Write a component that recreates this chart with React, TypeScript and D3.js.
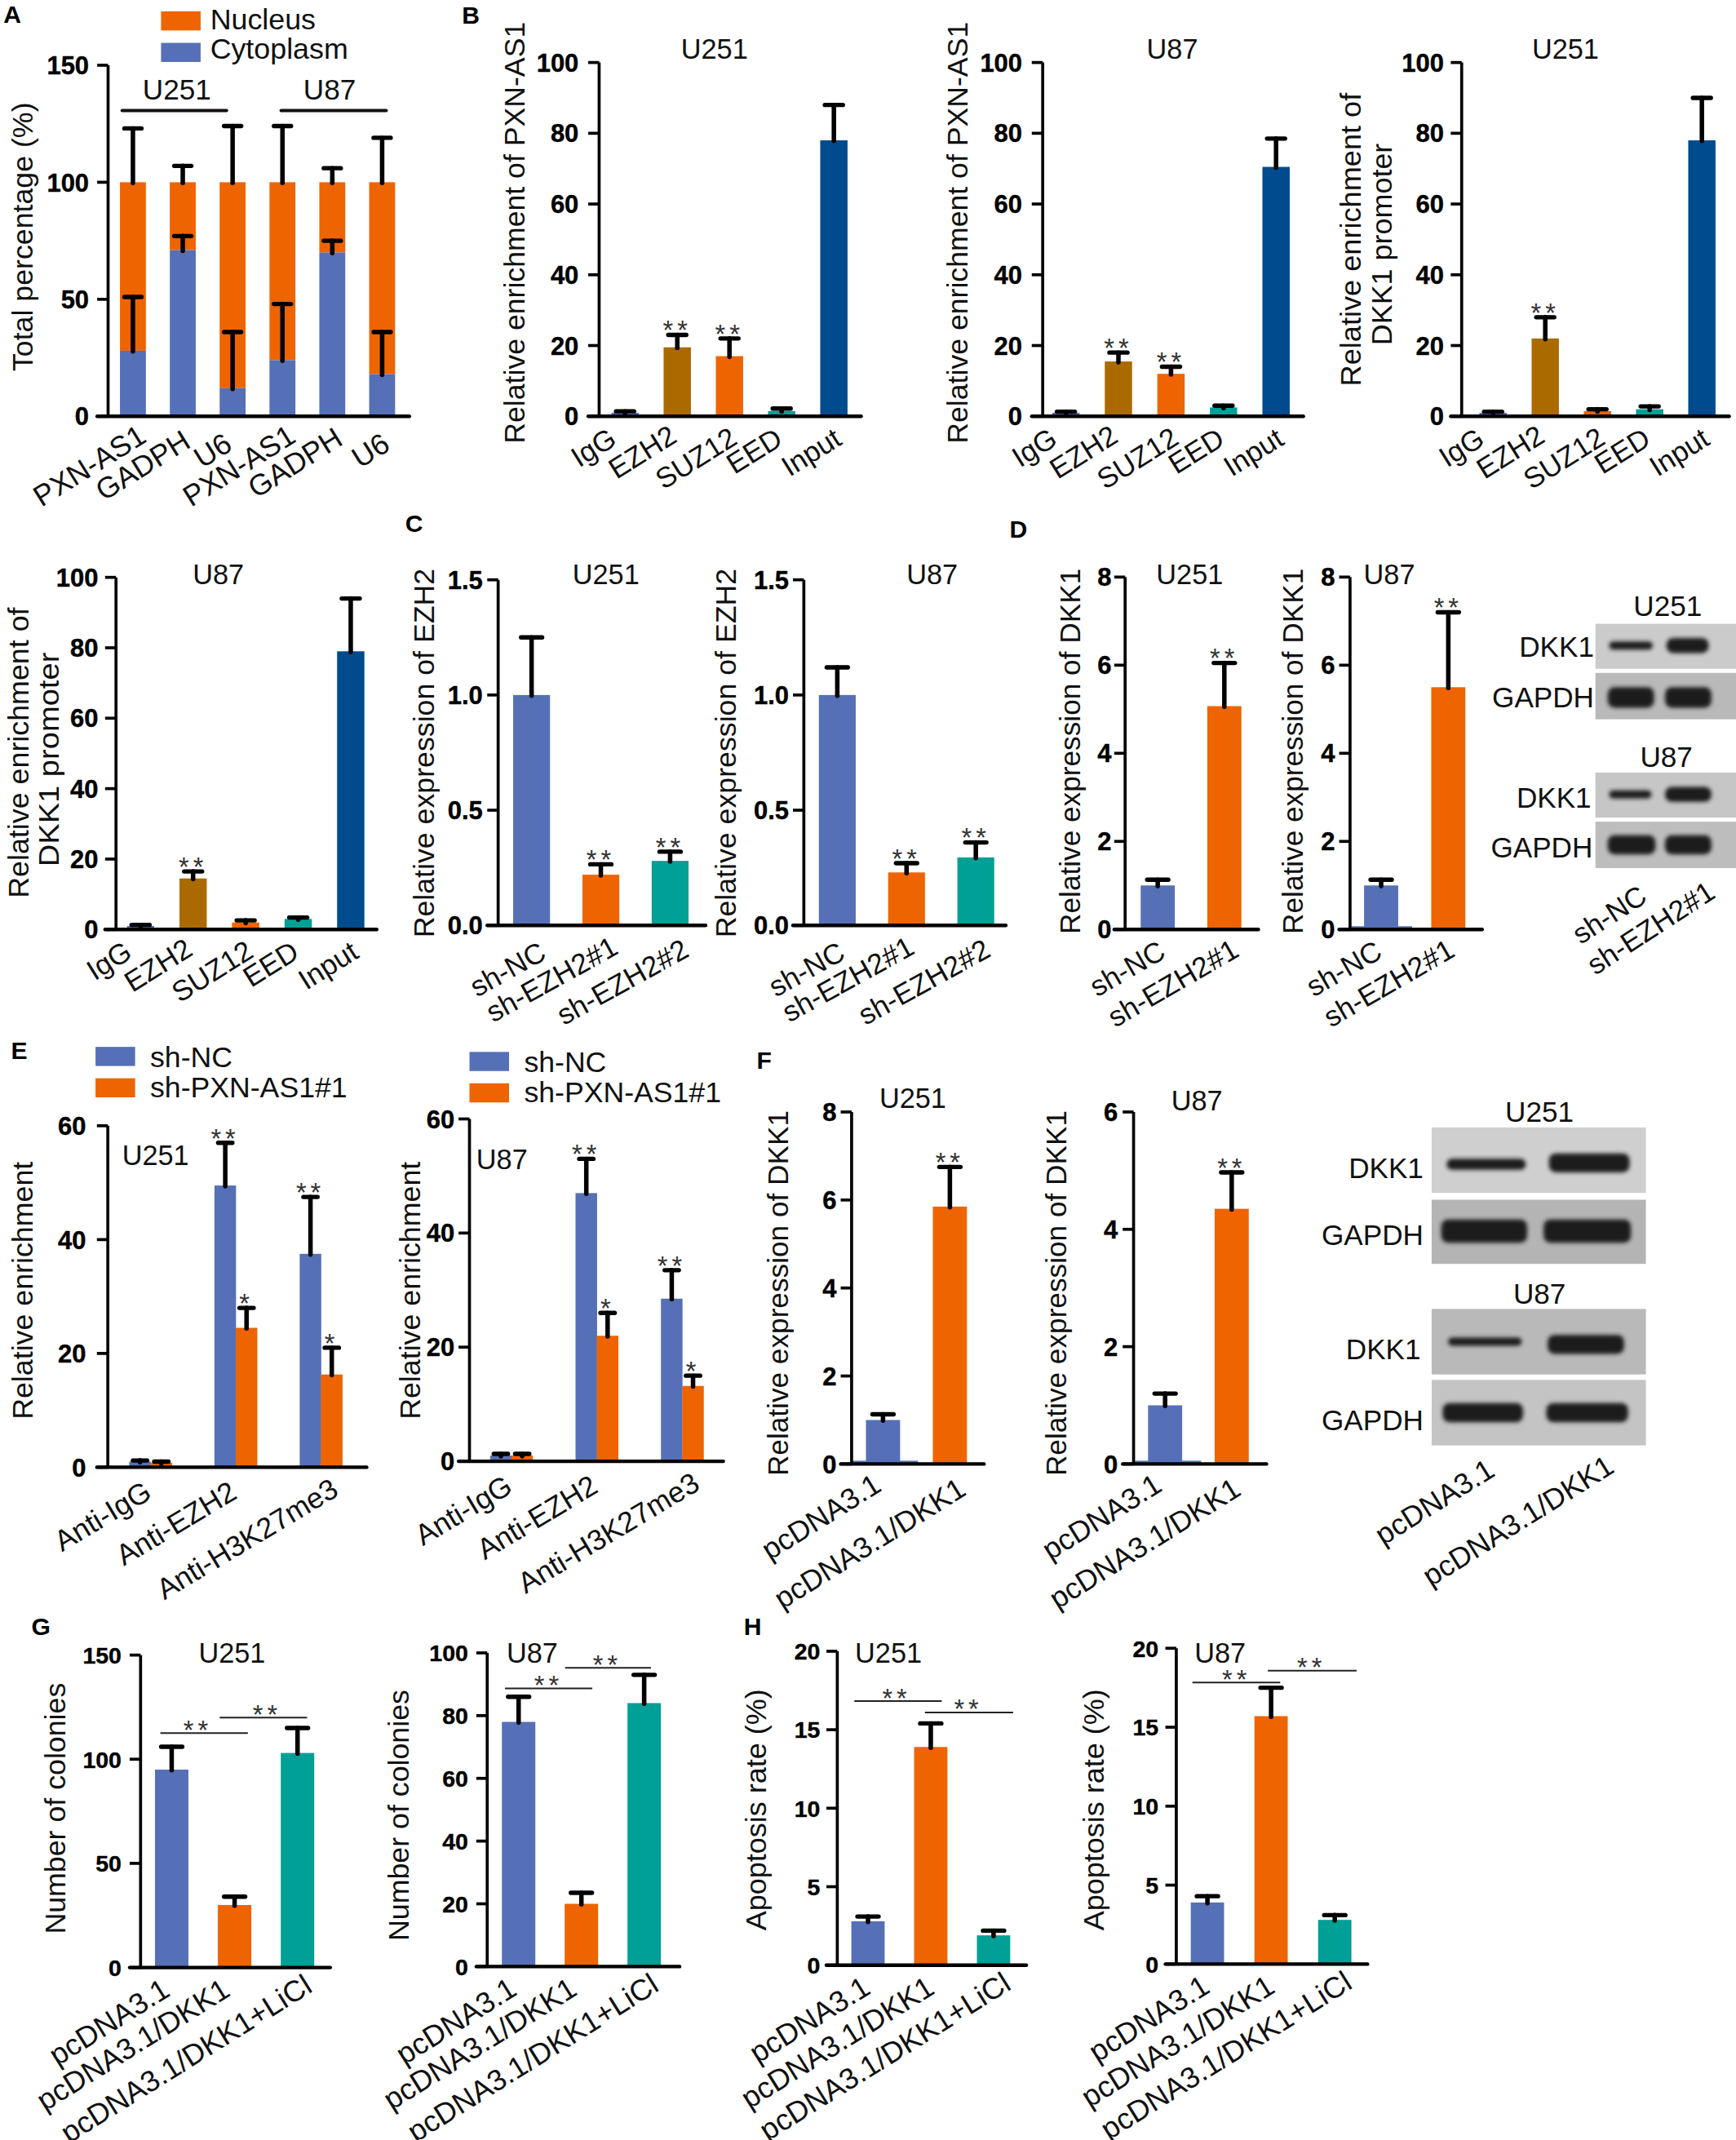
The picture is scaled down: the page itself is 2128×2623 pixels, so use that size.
import React from "react";
import * as d3 from "d3";

// ---------- data ----------
const aCats = ["PXN-AS1", "GADPH", "U6", "PXN-AS1", "GADPH", "U6"];
const aCyto = [28, 71, 12, 24, 70, 18];
const aCytoTop = [51, 77, 36, 48, 75, 36];
const aTotal = [100, 100, 100, 100, 100, 100];
const aTotalTop = [123, 107, 124, 124, 106, 119];
const aTicks = [0, 50, 100, 150];

const ripCats = ["IgG", "EZH2", "SUZ12", "EED", "Input"];
const pct100 = [0, 20, 40, 60, 80, 100];
const b1Vals = [1, 19.5, 17, 1.5, 78];
const b1Tops = [1.4, 23, 22, 2.2, 88];
const b1Stars = ["", "**", "**", "", ""];
const b2Vals = [1, 15.5, 12, 2.5, 70.5];
const b2Tops = [1.3, 18, 14, 3, 78.5];
const b2Stars = ["", "**", "**", "", ""];
const b3Vals = [1, 22, 1.5, 2, 78];
const b3Tops = [1.3, 28, 2, 2.8, 90];
const b3Stars = ["", "**", "", "", ""];
const b4Vals = [1, 14.5, 2, 3, 79];
const b4Tops = [1.3, 16.5, 2.6, 3.4, 94];
const b4Stars = ["", "**", "", "", ""];

const cCats = ["sh-NC", "sh-EZH2#1", "sh-EZH2#2"];
const cTicks = [0, 0.5, 1, 1.5];
const c1Vals = [1, 0.22, 0.28];
const c1Tops = [1.25, 0.265, 0.32];
const c2Vals = [1, 0.23, 0.295];
const c2Tops = [1.12, 0.27, 0.36];
const cStars = ["", "**", "**"];

const dCats = ["sh-NC", "sh-EZH2#1"];
const dTicks = [0, 2, 4, 6, 8];
const d1Vals = [1, 5.07];
const d1Tops = [1.13, 6.05];
const d2Vals = [1, 5.5];
const d2Tops = [1.13, 7.2];
const twoStars = ["", "**"];

const eCats = ["Anti-IgG", "Anti-EZH2", "Anti-H3K27me3"];
const eTicks = [0, 20, 40, 60];
const e1Blue = [1, 49.5, 37.5];
const e1BlueTop = [1.2, 57, 47.5];
const e1Orange = [0.8, 24.5, 16.3];
const e1OrangeTop = [1, 28, 21];
const e2Blue = [1, 47, 28.5];
const e2BlueTop = [1.3, 53, 33.5];
const e2Orange = [1, 22, 13.2];
const e2OrangeTop = [1.3, 26, 15];
const eBlueStars = ["", "**", "**"];
const eOrangeStars = ["", "*", "*"];

const fCats = ["pcDNA3.1", "pcDNA3.1/DKK1"];
const f1Vals = [1, 5.85];
const f1Tops = [1.13, 6.75];
const f1Ticks = [0, 2, 4, 6, 8];
const f2Vals = [1, 4.35];
const f2Tops = [1.2, 4.97];
const f2Ticks = [0, 2, 4, 6];

const ghCats = ["pcDNA3.1", "pcDNA3.1/DKK1", "pcDNA3.1/DKK1+LiCl"];
const g1Vals = [95, 30, 103];
const g1Tops = [106, 34, 115];
const g1Ticks = [0, 50, 100, 150];
const g2Vals = [78, 20, 84];
const g2Tops = [86, 23.5, 93];
const g2Ticks = [0, 20, 40, 60, 80, 100];
const h1Vals = [2.8, 13.9, 1.9];
const h1Tops = [3.1, 15.4, 2.2];
const h2Vals = [3.9, 15.7, 2.8];
const h2Tops = [4.3, 17.5, 3.1];
const hTicks = [0, 5, 10, 15, 20];

// ---------- style ----------
const S = 2128 / 1272;
const FONT = "'Liberation Sans', Arial, sans-serif";
const BLUE = "#5570b6";
const ORANGE = "#ee6400";
const BROWN = "#ab6a00";
const TEAL = "#00a096";
const NAVY = "#004b8d";
const RIP = [BLUE, BROWN, ORANGE, TEAL, NAVY];
const TRI = [BLUE, ORANGE, TEAL];
const DUO = [BLUE, ORANGE];

type Mark = { cx: number; w: number; from: number; to: number; top: number; color: string; star?: string };

function RotLabel({ x, y, text, size = 21, angle = -32 }: any) {
  return (
    <text transform={`translate(${x},${y}) rotate(${angle})`} textAnchor="end" fontSize={size} fill="#111">
      {text}
    </text>
  );
}

function YTitle({ x, y1, y2, text, size = 21.5 }: any) {
  const c = (y1 + y2) / 2;
  return (
    <text transform={`translate(${x},${c}) rotate(-90)`} textAnchor="middle" fontSize={size} textLength={y2 - y1} lengthAdjust="spacingAndGlyphs" fill="#111">
      {text}
    </text>
  );
}

function Stars({ x, y, text }: any) {
  return (
    <text x={x} y={y} textAnchor="middle" fontSize={19.5} letterSpacing={3} fill="#333">
      {text}
    </text>
  );
}

function Frame({ ax, y0, yTop, max, ticks, end, fmt, gap = 14, tfs = 18.5, children }: any) {
  const y = d3.scaleLinear().domain([0, max]).range([y0, yTop]);
  return (
    <g>
      {children(y)}
      <line x1={ax} x2={ax} y1={y0} y2={yTop} stroke="#000" strokeWidth={2.2} />
      {ticks.map((t: number) => (
        <g key={t}>
          <line x1={ax - 8} x2={ax} y1={y(t)} y2={y(t)} stroke="#000" strokeWidth={2.2} />
          <text x={ax - gap} y={y(t)} dy="0.36em" textAnchor="end" fontSize={tfs} fontWeight="bold" stroke="#000" strokeWidth={0.25} fill="#000">
            {fmt ? fmt(t) : t}
          </text>
        </g>
      ))}
      <line x1={ax - 8} x2={end} y1={y0} y2={y0} stroke="#000" strokeWidth={2.6} strokeLinecap="round" />
    </g>
  );
}

function Bars({ y, marks }: { y: any; marks: Mark[] }) {
  return (
    <g>
      {marks.map((m, i) => {
        const cap = Math.min(m.w * 0.66, 15.5);
        return (
          <g key={i}>
            <rect x={m.cx - m.w / 2} width={m.w} y={y(m.to)} height={y(m.from) - y(m.to)} fill={m.color} />
            <line x1={m.cx} x2={m.cx} y1={y(m.to) + 0.5} y2={y(m.top)} stroke="#000" strokeWidth={3.3} strokeLinecap="round" />
            <line x1={m.cx - cap / 2} x2={m.cx + cap / 2} y1={y(m.top)} y2={y(m.top)} stroke="#000" strokeWidth={3.2} strokeLinecap="round" />
            {m.star ? <Stars x={m.cx} y={y(m.top) + 3.5} text={m.star} /> : null}
          </g>
        );
      })}
    </g>
  );
}

function Simple({ p }: { p: any }) {
  const x = d3.scalePoint<number>().domain(p.vals.map((_: any, i: number) => i)).range([p.first, p.last]);
  return (
    <g>
      {p.sliver ? <rect x={p.sliver[0]} width={p.sliver[1] - p.sliver[0]} y={p.y0 - 2.4} height={2.4} fill={BLUE} /> : null}
      <Frame ax={p.ax} y0={p.y0} yTop={p.yTop} max={p.max} ticks={p.ticks} end={p.end} fmt={p.fmt} gap={p.gap} tfs={p.tfs}>
        {(y: any) => (
          <Bars
            y={y}
            marks={p.vals.map((v: number, i: number) => ({
              cx: x(i)!,
              w: p.w,
              from: 0,
              to: v,
              top: p.tops[i],
              color: p.colors[i],
              star: p.stars ? p.stars[i] : "",
            }))}
          />
        )}
      </Frame>
      {p.cats.map((c: string, i: number) => (
        <RotLabel key={i} x={x(i)! + p.ldx[i]} y={p.y0 + p.ldy[i]} text={c} size={p.lsize ?? 21} angle={p.angle ?? -32} />
      ))}
      <text x={p.tx} y={p.ty} textAnchor="middle" fontSize={20.5} fill="#111">
        {p.title}
      </text>
      {p.ytitle.map((t: any, i: number) => (
        <YTitle key={i} x={t[0]} y1={t[1]} y2={t[2]} text={t[3]} />
      ))}
    </g>
  );
}

function Grouped({ p }: { p: any }) {
  const x = d3.scalePoint<string>().domain(p.cats).range([p.first, p.last]);
  const eDx = [2, 2, 14];
  const eDy = [22, 22, 20];
  return (
    <g>
      <Frame ax={p.ax} y0={p.y0} yTop={p.yTop} max={p.max} ticks={p.ticks} end={p.end} gap={p.gap}>
        {(y: any) => (
          <Bars
            y={y}
            marks={p.cats.flatMap((c: string, i: number) => [
              { cx: x(c)! - 7.8, w: 15.8, from: 0, to: p.blue[i], top: p.blueTop[i], color: BLUE, star: eBlueStars[i] },
              { cx: x(c)! + 7.8, w: 15.8, from: 0, to: p.orange[i], top: p.orangeTop[i], color: ORANGE, star: eOrangeStars[i] },
            ])}
          />
        )}
      </Frame>
      {p.cats.map((c: string, i: number) => (
        <RotLabel key={c} x={x(c)! + eDx[i]} y={p.y0 + eDy[i]} text={c} size={21.3} angle={-31} />
      ))}
      <text x={p.tx} y={p.ty} textAnchor="middle" fontSize={20.5} fill="#111">
        {p.title}
      </text>
      <YTitle x={p.ytx} y1={851} y2={1040} text="Relative enrichment" />
      <rect x={p.lx} y={p.ly} width={29} height={14} fill={BLUE} />
      <rect x={p.lx} y={p.ly + 23} width={29} height={14} fill={ORANGE} />
      <text x={p.lx + 40} y={p.ly + 15} fontSize={21.3} fill="#111">sh-NC</text>
      <text x={p.lx + 40} y={p.ly + 37} fontSize={21.3} fill="#111">sh-PXN-AS1#1</text>
    </g>
  );
}

function Blot({ x, y, w, h, fill, bands }: any) {
  return (
    <g>
      <rect x={x} y={y} width={w} height={h} fill={fill} />
      {bands.map((b: number[], i: number) => (
        <rect key={i} x={b[0]} width={b[1] - b[0]} y={b[2] - b[3] / 2} height={b[3]} rx={Math.min(b[3] / 2, 5)} fill="#1d1d1d" filter="url(#blur)" />
      ))}
    </g>
  );
}

const SigLine = ({ x1, x2, y, tx }: any) => (
  <g>
    <line x1={x1} x2={x2} y1={y} y2={y} stroke="#222" strokeWidth={1.2} />
    <Stars x={tx} y={y + 4.5} text="**" />
  </g>
);

const Lbl = ({ x, y, t, a = "middle", s = 21 }: any) => (
  <text x={x} y={y} textAnchor={a} fontSize={s} fill="#111">{t}</text>
);

export default function App() {
  const aX = d3.scalePoint<number>().domain(aCats.map((_, i) => i)).range([97.4, 280]);
  const aDx = [11, 7, 1, 11, 9, 7];
  const aDy = [18, 22, 24, 18, 20, 24];
  const fmtC = (t: number) => t.toFixed(1);
  const rDx = [-5, 1, 7, 2, 7];
  const rDy = [20, 18, 19.5, 20, 20];
  const ghDy = [20, 20, 17];
  const ghS = { lsize: 21.7, ldy: ghDy, tfs: 17 };
  const simple = [
    { title: "U251", tx: 523.5, ty: 42.8, ax: 439, gap: 15, y0: 305, yTop: 45.8, max: 100, ticks: pct100, end: 631, cats: ripCats, vals: b1Vals, tops: b1Tops, stars: b1Stars, colors: RIP, first: 458, last: 611, w: 20, ldx: rDx, ldy: rDy, ytitle: [[384.5, 16, 325, "Relative enrichment of PXN-AS1"]] },
    { title: "U87", tx: 859, ty: 42.8, ax: 764, gap: 15, y0: 305, yTop: 45.8, max: 100, ticks: pct100, end: 955, cats: ripCats, vals: b2Vals, tops: b2Tops, stars: b2Stars, colors: RIP, first: 781, last: 935, w: 20, ldx: rDx, ldy: rDy, ytitle: [[709, 16, 325, "Relative enrichment of PXN-AS1"]] },
    { title: "U251", tx: 1147, ty: 42.8, ax: 1071, gap: 13, y0: 305, yTop: 45.8, max: 100, ticks: pct100, end: 1267, cats: ripCats, vals: b3Vals, tops: b3Tops, stars: b3Stars, colors: RIP, first: 1094, last: 1247, w: 20, ldx: rDx, ldy: rDy, ytitle: [[997, 68, 283, "Relative enrichment of"], [1020, 105, 253, "DKK1 promoter"]] },
    { title: "U87", tx: 160, ty: 428, ax: 85, gap: 13, y0: 681, yTop: 423, max: 100, ticks: pct100, end: 276, cats: ripCats, vals: b4Vals, tops: b4Tops, stars: b4Stars, colors: RIP, first: 103, last: 257, w: 20, ldx: rDx, ldy: rDy, ytitle: [[21, 445, 658, "Relative enrichment of"], [43, 478, 635, "DKK1 promoter"]] },
    { title: "U251", tx: 444, ty: 428, ax: 365, gap: 11.3, y0: 678, yTop: 424.8, max: 1.5, ticks: cTicks, fmt: fmtC, end: 517, cats: cCats, vals: c1Vals, tops: c1Tops, stars: cStars, colors: TRI, first: 389.5, last: 491, w: 27, ldx: [12, 14, 15], ldy: [24, 20, 22], lsize: 21, angle: -29, ytitle: [[318, 416.5, 687, "Relative expression of EZH2"]] },
    { title: "U87", tx: 683, ty: 428, ax: 589, gap: 11, y0: 678, yTop: 424.8, max: 1.5, ticks: cTicks, fmt: fmtC, end: 737, cats: cCats, vals: c2Vals, tops: c2Tops, stars: cStars, colors: TRI, first: 613.5, last: 715, w: 27, ldx: [7, 7, 12], ldy: [24, 20, 22], lsize: 21, angle: -29, ytitle: [[539.2, 416.5, 687, "Relative expression of EZH2"]] },
    { title: "U251", tx: 871.7, ty: 427.8, ax: 824.4, gap: 10, y0: 681, yTop: 422.8, max: 8, ticks: dTicks, end: 922, cats: dCats, vals: d1Vals, tops: d1Tops, stars: twoStars, colors: DUO, first: 848.3, last: 897.1, w: 25, ldx: [7, 12], ldy: [20, 19], lsize: 21, angle: -30, ytitle: [[791.7, 416.5, 684.4, "Relative expression of DKK1"]] },
    { title: "U87", tx: 1018, ty: 427.8, ax: 989.2, gap: 11, y0: 681, yTop: 422.8, max: 8, ticks: dTicks, end: 1086, cats: dCats, vals: d2Vals, tops: d2Tops, stars: twoStars, colors: DUO, first: 1012, last: 1061.2, w: 25, ldx: [2, 6], ldy: [20, 19], lsize: 21, angle: -30, sliver: [990, 1034.7], ytitle: [[954.7, 416.5, 684.4, "Relative expression of DKK1"]] },
    { title: "U251", tx: 668.8, ty: 811.7, ax: 624, gap: 11, y0: 1072.6, yTop: 814.7, max: 8, ticks: f1Ticks, end: 721, cats: fCats, vals: f1Vals, tops: f1Tops, stars: twoStars, colors: DUO, first: 647, last: 696, w: 25, ldx: [0, 13], ldy: [19, 22], lsize: 21.5, sliver: [625, 672.6], ytitle: [[577.7, 813.5, 1081.4, "Relative expression of DKK1"]] },
    { title: "U87", tx: 877, ty: 813.5, ax: 830.6, gap: 11.6, y0: 1072.6, yTop: 814.7, max: 6, ticks: f2Ticks, end: 928, cats: fCats, vals: f2Vals, tops: f2Tops, stars: twoStars, colors: DUO, first: 853.7, last: 902.5, w: 25, ldx: [-1, 8], ldy: [19, 22], lsize: 21.5, sliver: [831.6, 880], ytitle: [[781.3, 813.5, 1081.4, "Relative expression of DKK1"]] },
    { title: "U251", tx: 170, ty: 1218, ax: 103, gap: 14, y0: 1441.5, yTop: 1212.6, max: 150, ticks: g1Ticks, end: 242, cats: ghCats, vals: g1Vals, tops: g1Tops, colors: TRI, first: 125.8, last: 218, w: 24.5, ldx: [0, -2, 12], ytitle: [[47.8, 1233, 1417, "Number of colonies"]], ...ghS },
    { title: "U87", tx: 390, ty: 1218, ax: 357, gap: 14, y0: 1440.8, yTop: 1211, max: 100, ticks: g2Ticks, end: 498, cats: ghCats, vals: g2Vals, tops: g2Tops, colors: TRI, first: 380, last: 472, w: 24.5, ldx: [0, -2, 12], ytitle: [[299.4, 1238, 1422, "Number of colonies"]], ...ghS },
    { title: "U251", tx: 651, ty: 1218, ax: 613.5, gap: 12.5, y0: 1439.8, yTop: 1209.8, max: 20, ticks: hTicks, end: 752, cats: ghCats, vals: h1Vals, tops: h1Tops, colors: TRI, first: 636, last: 728, w: 24.4, ldx: [3, 4, 14], ytitle: [[561, 1237.5, 1414.4, "Apoptosis rate (%)"]], ...ghS },
    { title: "U87", tx: 894, ty: 1218, ax: 861.9, gap: 13, y0: 1439, yTop: 1207.6, max: 20, ticks: hTicks, end: 1002, cats: ghCats, vals: h2Vals, tops: h2Tops, colors: TRI, first: 884.7, last: 978, w: 24.4, ldx: [3, 4, 14], ytitle: [[809, 1237.5, 1414.4, "Apoptosis rate (%)"]], ...ghS },
  ];
  return (
    <svg
      width={2128}
      height={2623}
      viewBox={`0 0 1272 ${2623 / S}`}
      style={{ position: "absolute", left: 0, top: 0, display: "block", background: "#fff" }}
      fontFamily={FONT}
    >
      <defs>
        <filter id="blur" x="-20%" y="-80%" width="140%" height="260%">
          <feGaussianBlur stdDeviation="1.7" />
        </filter>
      </defs>

      {/* A */}
      <Frame ax={79.2} y0={305} yTop={47.8} max={150} ticks={aTicks} end={300}>
        {(y: any) => (
          <g>
            <Bars y={y} marks={aCats.map((_, i) => ({ cx: aX(i)!, w: 19, from: aCyto[i], to: aTotal[i], top: aTotalTop[i], color: ORANGE }))} />
            <Bars y={y} marks={aCats.map((_, i) => ({ cx: aX(i)!, w: 19, from: 0, to: aCyto[i], top: aCytoTop[i], color: BLUE }))} />
          </g>
        )}
      </Frame>
      {aCats.map((c, i) => (
        <RotLabel key={i} x={aX(i)! + aDx[i]} y={305 + aDy[i]} text={c} size={21.5} />
      ))}
      <rect x={118} y={8.3} width={29} height={14} fill={ORANGE} />
      <rect x={118} y={31.4} width={29} height={14} fill={BLUE} />
      <Lbl x={154} y={21.4} t="Nucleus" a="start" s={21.4} />
      <Lbl x={154} y={43.3} t="Cytoplasm" a="start" s={21.4} />
      <YTitle x={24} y1={75} y2={272} text="Total percentage (%)" />
      <line x1={89.5} x2={166} y1={81} y2={81} stroke="#111" strokeWidth={2.4} strokeLinecap="round" />
      <line x1={206} x2={283} y1={81} y2={81} stroke="#111" strokeWidth={2.4} strokeLinecap="round" />
      <Lbl x={129.6} y={73} t="U251" />
      <Lbl x={241.5} y={73} t="U87" />

      {simple.map((p, i) => <Simple key={i} p={p} />)}

      {/* E */}
      <Grouped p={{ title: "U251", tx: 114, ty: 853.7, ax: 79, gap: 16, y0: 1075, yTop: 824.8, max: 60, ticks: eTicks, end: 268.7, cats: eCats, blue: e1Blue, blueTop: e1BlueTop, orange: e1Orange, orangeTop: e1OrangeTop, first: 110.4, last: 235.3, ytx: 24, lx: 70, ly: 767 }} />
      <Grouped p={{ title: "U87", tx: 367.8, ty: 856.3, ax: 344, gap: 11, y0: 1070.6, yTop: 819.8, max: 60, ticks: eTicks, end: 530, cats: eCats, blue: e2Blue, blueTop: e2BlueTop, orange: e2Orange, orangeTop: e2OrangeTop, first: 374.8, last: 500, ytx: 308, lx: 344, ly: 770.7 }} />

      {/* blots D */}
      <Blot x={1169} y={457} w={103} h={33} fill="#cbcbcb" bands={[[1179, 1211, 473, 6], [1221, 1252, 473, 11]]} />
      <Blot x={1169} y={493} w={103} h={34} fill="#b9b9b9" bands={[[1178, 1212, 511, 15], [1220, 1254, 511, 15]]} />
      <Blot x={1169} y={566} w={103} h={33} fill="#c6c6c6" bands={[[1179, 1210, 582, 6], [1220, 1254, 582, 11]]} />
      <Blot x={1169} y={602} w={103} h={34} fill="#bdbdbd" bands={[[1178, 1213, 619, 14], [1220, 1254, 619, 14]]} />
      <Lbl x={1222} y={451} t="U251" />
      <Lbl x={1221} y={562} t="U87" />
      <Lbl x={1168} y={481} t="DKK1" a="end" />
      <Lbl x={1168} y={518} t="GAPDH" a="end" />
      <Lbl x={1166} y={592} t="DKK1" a="end" />
      <Lbl x={1167} y={628} t="GAPDH" a="end" />
      {dCats.map((c, i) => (
        <RotLabel key={i} x={[1208, 1258][i]} y={[660, 657][i]} text={c} size={21} angle={-33} />
      ))}

      {/* blots F */}
      <Blot x={1049} y={826} w={157} h={48} fill="#cfcfcf" bands={[[1060, 1118, 853, 8], [1135, 1194, 852, 14]]} />
      <Blot x={1049} y={879} w={157} h={47} fill="#b4b4b4" bands={[[1056, 1119, 902, 17], [1131, 1195, 902, 17]]} />
      <Blot x={1049} y={959} w={157} h={48} fill="#b9b9b9" bands={[[1061, 1115, 983, 6], [1134, 1190, 985, 14]]} />
      <Blot x={1049} y={1011} w={157} h={48} fill="#c4c4c4" bands={[[1057, 1116, 1035, 14], [1133, 1193, 1035, 14]]} />
      <Lbl x={1128} y={822} t="U251" />
      <Lbl x={1128} y={955} t="U87" />
      <Lbl x={1043} y={863} t="DKK1" a="end" />
      <Lbl x={1043} y={912} t="GAPDH" a="end" />
      <Lbl x={1041} y={996} t="DKK1" a="end" />
      <Lbl x={1043} y={1048} t="GAPDH" a="end" />
      {fCats.map((c, i) => (
        <RotLabel key={i} x={[1096.5, 1184][i]} y={[1080.6, 1078][i]} text={c} size={21.5} angle={-32} />
      ))}

      {/* significance */}
      <SigLine x1={117.5} x2={181.6} y={1269.7} tx={145} />
      <SigLine x1={161} x2={225} y={1258.4} tx={195.7} />
      <SigLine x1={370} x2={434} y={1237} tx={402} />
      <SigLine x1={414} x2={477} y={1222} tx={445} />
      <SigLine x1={626} x2={690} y={1246.3} tx={657} />
      <SigLine x1={677.7} x2={742.3} y={1254.6} tx={709.6} />
      <SigLine x1={873.7} x2={938} y={1232.7} tx={906} />
      <SigLine x1={929} x2={994} y={1224} tx={961} />

      {/* panel letters */}
      {[["A", 2.5, 17], ["B", 338.4, 17.6], ["C", 297, 390], ["D", 739.7, 394], ["E", 8, 776], ["F", 554.4, 783.3], ["G", 23, 1198], ["H", 545, 1198]].map((l: any) => (
        <text key={l[0]} x={l[1]} y={l[2]} fontSize={18} fontWeight="bold" fill="#000">{l[0]}</text>
      ))}
    </svg>
  );
}
